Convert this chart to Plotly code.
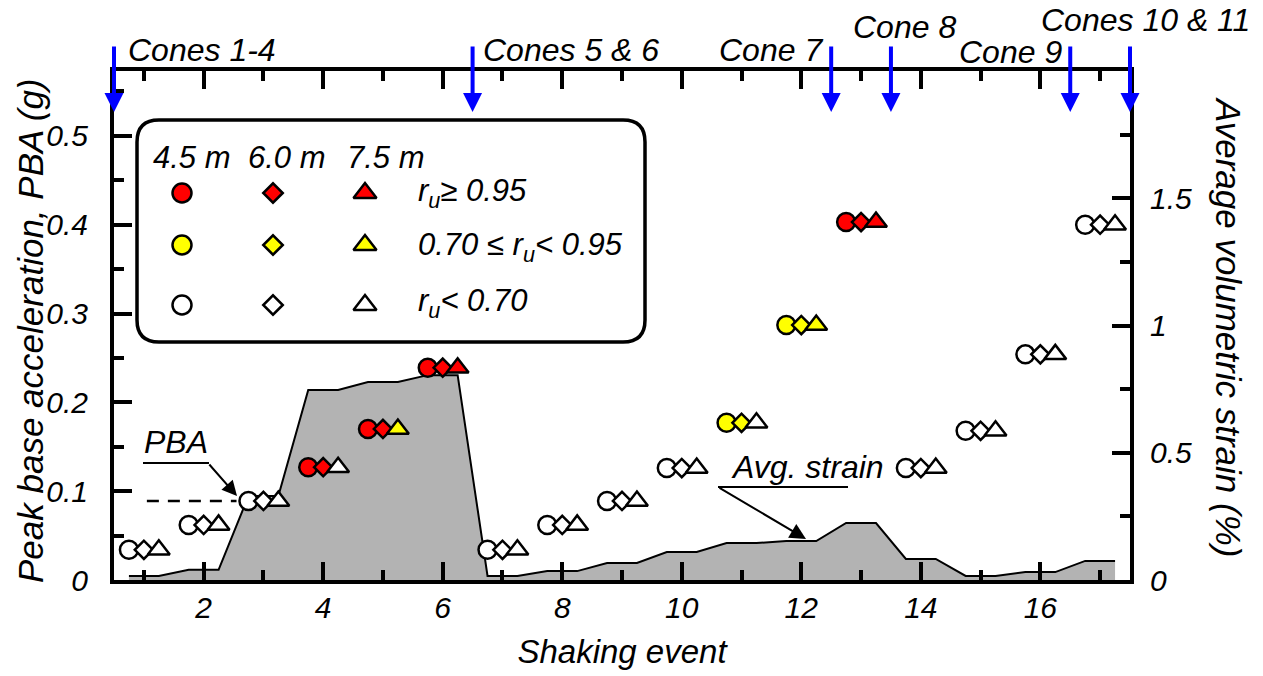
import plotly.graph_objects as go

# ---------------- data ----------------
events = list(range(1, 18))
pba_g = [0.034, 0.062, 0.089, 0.127, 0.170, 0.239, 0.034, 0.062, 0.089, 0.126,
         0.177, 0.287, 0.403, 0.126, 0.168, 0.254, 0.400]
# excess pore pressure class at each depth: high = ru>=0.95, mid = 0.70<=ru<0.95, low = ru<0.70
ru_45m = ["low", "low", "low", "high", "high", "high", "low", "low", "low", "low",
          "mid", "mid", "high", "low", "low", "low", "low"]
ru_60m = ["low", "low", "low", "high", "high", "high", "low", "low", "low", "low",
          "mid", "mid", "high", "low", "low", "low", "low"]
ru_75m = ["low", "low", "low", "low", "mid", "high", "low", "low", "low", "low",
          "low", "mid", "high", "low", "low", "low", "low"]
avg_strain_pct = [0.016, 0.040, 0.330, 0.747, 0.778, 0.805, 0.016, 0.035, 0.067, 0.110,
                  0.145, 0.153, 0.224, 0.083, 0.016, 0.031, 0.075]
cone_events = [0.5, 6.5, 12.5, 13.5, 16.5, 17.5]
cone_labels = ["Cones 1-4", "Cones 5 & 6", "Cone 7", "Cone 8", "Cone 9", "Cones 10 & 11"]
x_ticks = [2, 4, 6, 8, 10, 12, 14, 16]
pba_ticks = [0, 0.1, 0.2, 0.3, 0.4, 0.5]
pba_tick_labels = ["0", "0.1", "0.2", "0.3", "0.4", "0.5"]
strain_ticks = [0, 0.5, 1, 1.5]
strain_tick_labels = ["0", "0.5", "1", "1.5"]
depth_labels = ["4.5 m", "6.0 m", "7.5 m"]
ru_classes = ["high", "mid", "low"]
ru_class_labels = ["r<sub>u</sub>≥ 0.95", "0.70 ≤ r<sub>u</sub>< 0.95", "r<sub>u</sub>< 0.70"]

# ---------------- style ----------------
W, H = 1263, 676
L, R, T, B = 114, 1130, 71, 580
FONT = "Liberation Sans"
fill_colors = {"high": "#ff0000", "mid": "#ffff00", "low": "#ffffff"}


def fx(p):  # pixel -> paper x
    return (p - L) / (R - L)


def fy(p):  # pixel -> paper y
    return (B - p) / (B - T)


def ifont(size):
    return dict(family=FONT, size=size, color="black", style="italic")


def label(text, x, y, size, xanchor="center", **kw):
    return dict(text=text, x=fx(x), y=fy(y), xref="paper", yref="paper",
                xanchor=xanchor, yanchor="middle", showarrow=False, font=ifont(size), **kw)


fig = go.Figure()

# average volumetric strain (right axis, primary y so it is drawn beneath markers)
sx, sy = [], []
for e, s in zip(events, avg_strain_pct):
    sx += [e - 0.25, e + 0.25]
    sy += [s, s]
fig.add_trace(go.Scatter(x=sx, y=sy, mode="lines", fill="tozeroy",
                         fillcolor="#b3b3b3", line=dict(color="black", width=2),
                         yaxis="y", hoverinfo="skip", showlegend=False))

# PBA markers for three depths
marker_specs = [(-0.25, "circle", ru_45m, 18), (0.0, "diamond", ru_60m, 14),
                (0.25, "triangle-up", ru_75m, 19)]
for off, sym, ru, size in marker_specs:
    fig.add_trace(go.Scatter(
        x=[e + off for e in events], y=pba_g, mode="markers", yaxis="y2",
        marker=dict(symbol=sym, size=size, color=[fill_colors[c] for c in ru],
                    line=dict(color="black", width=2.5)),
        hoverinfo="skip", showlegend=False))

# legend symbols (pixel overlay axes)
leg_cols = [182, 273, 365]
leg_rows = [193, 245, 305]
for (off, sym, ru, size), cx in zip(marker_specs, leg_cols):
    fig.add_trace(go.Scatter(
        x=[cx] * 3, y=leg_rows, mode="markers", xaxis="x3", yaxis="y3",
        marker=dict(symbol=sym, size=size + 1, color=[fill_colors[c] for c in ru_classes],
                    line=dict(color="black", width=2.5)),
        hoverinfo="skip", showlegend=False))

shapes = []
annotations = []

# legend box (rounded rectangle)
bx0, bx1, by0, by1, rr = 137, 645, 120, 342, 22
rx, ry = rr / (R - L), rr / (B - T)
X0, X1, Y0, Y1 = fx(bx0), fx(bx1), fy(by0), fy(by1)
path = (f"M {X0 + rx},{Y0} L {X1 - rx},{Y0} Q {X1},{Y0} {X1},{Y0 - ry} "
        f"L {X1},{Y1 + ry} Q {X1},{Y1} {X1 - rx},{Y1} L {X0 + rx},{Y1} "
        f"Q {X0},{Y1} {X0},{Y1 + ry} L {X0},{Y0 - ry} Q {X0},{Y0} {X0 + rx},{Y0} Z")
shapes.append(dict(type="path", path=path, xref="paper", yref="paper",
                   line=dict(color="black", width=3.5), layer="above"))

for lab, cx in zip(depth_labels, [192, 287, 386]):
    annotations.append(label(lab, cx, 157, 31))
for lab, cy in zip(ru_class_labels, [193, 247, 303]):
    annotations.append(label(lab, 416, cy, 31, xanchor="left"))

# PBA annotation
shapes.append(dict(type="line", xref="x", yref="y2", x0=1.05, x1=2.55,
                   y0=pba_g[2], y1=pba_g[2], line=dict(color="black", width=2.5, dash="12px,9px")))
annotations.append(label("PBA", 176, 442, 32))
shapes.append(dict(type="line", xref="paper", yref="paper", x0=fx(143), x1=fx(209),
                   y0=fy(463), y1=fy(463), line=dict(color="black", width=2)))
annotations.append(dict(text="", x=fx(237), y=fy(496), xref="paper", yref="paper",
                        ax=-29, ay=-33, showarrow=True, arrowhead=2, arrowsize=1.5,
                        arrowwidth=2, arrowcolor="black", standoff=0))

# Avg. strain annotation
annotations.append(label("Avg. strain", 807, 467, 32))
shapes.append(dict(type="line", xref="paper", yref="paper", x0=fx(718), x1=fx(848),
                   y0=fy(487), y1=fy(487), line=dict(color="black", width=2)))
annotations.append(dict(text="", x=fx(806), y=fy(539), xref="paper", yref="paper",
                        ax=-88, ay=-52, showarrow=True, arrowhead=2, arrowsize=1.6,
                        arrowwidth=2, arrowcolor="black", standoff=0))

# axis titles for the two y axes
annotations.append(label("Peak base acceleration, PBA (g)", 30, 331, 35, textangle=-90))
annotations.append(label("Average volumetric strain (%)", 1229, 327, 35, textangle=90))

# cone installation arrows and labels
label_style = [("left", 12, 50), ("left", 8, 50), ("right", -6, 50),
               ("left", -40, 27), ("right", -6, 52), ("left", -91, 20)]
for ce, lab, (anc, xs, ly) in zip(cone_events, cone_labels, label_style):
    annotations.append(dict(text="", x=ce, y=fy(112), xref="x", yref="paper",
                            ax=0, ay=-67, showarrow=True, arrowhead=2, arrowsize=0.95,
                            arrowwidth=4, arrowcolor="#0000ff", standoff=0))
    annotations.append(dict(text=lab, x=ce, y=fy(ly), xref="x", yref="paper",
                            xanchor=anc, xshift=xs, yanchor="middle",
                            showarrow=False, font=ifont(32)))

axis_common = dict(showline=True, linecolor="black", linewidth=4, ticks="inside",
                   ticklen=18, tickwidth=3.5, tickcolor="black", showgrid=False,
                   zeroline=False, tickfont=ifont(30), fixedrange=True)

fig.update_layout(
    width=W, height=H, autosize=False,
    margin=dict(l=L, r=W - R, t=T, b=H - B, pad=0),
    paper_bgcolor="white", plot_bgcolor="white",
    showlegend=False,
    font=dict(family=FONT, color="black"),
    xaxis=dict(range=[0.5, 17.5], tickvals=x_ticks, ticktext=[str(v) for v in x_ticks],
               mirror="ticks", ticklabelstandoff=-2,
               minor=dict(dtick=1, tick0=0, ticks="inside", ticklen=10, tickwidth=3.5,
                          tickcolor="black"),
               title=dict(text="Shaking event", font=ifont(33), standoff=18),
               **axis_common),
    yaxis=dict(range=[0, 2.0], side="right", tickvals=strain_ticks,
               ticktext=strain_tick_labels, ticklabelstandoff=10,
               minor=dict(dtick=0.25, tick0=0, ticks="inside", ticklen=10, tickwidth=3.5,
                          tickcolor="black"),
               **axis_common),
    yaxis2=dict(range=[0, 0.573], overlaying="y", side="left", tickvals=pba_ticks,
                ticktext=pba_tick_labels, ticklabelstandoff=16,
                minor=dict(dtick=0.05, tick0=0, ticks="inside", ticklen=10, tickwidth=3.5,
                           tickcolor="black"),
                **axis_common),
    xaxis3=dict(overlaying="x", range=[L, R], visible=False, fixedrange=True),
    yaxis3=dict(overlaying="y", range=[B, T], visible=False, fixedrange=True),
    shapes=shapes,
    annotations=annotations,
)

fig.write_html("out.html")
